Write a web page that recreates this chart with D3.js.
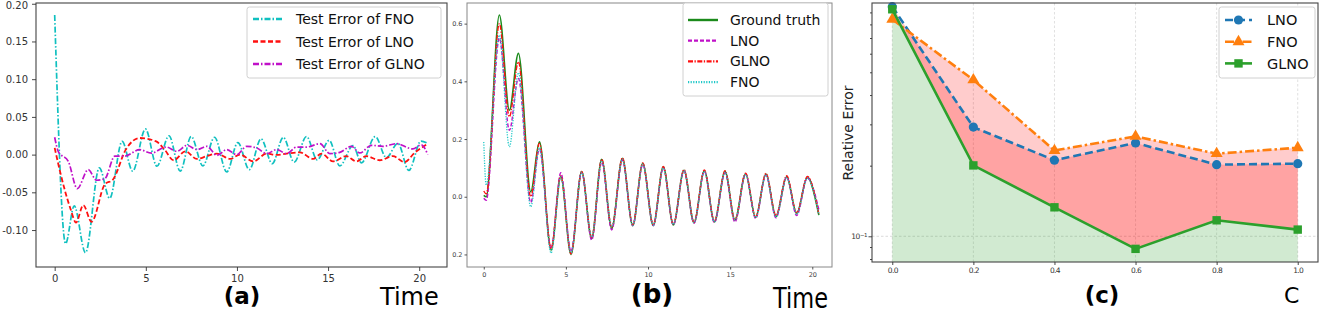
<!DOCTYPE html>
<html>
<head>
<meta charset="utf-8">
<script src="https://cdn.jsdelivr.net/npm/d3@7"></script>
<style>
  body { margin: 0; background: #fff; }
  svg { display: block; }
  text { font-family: "DejaVu Sans", sans-serif; }
</style>
</head>
<body>
<svg id="fig" width="1325" height="315"></svg>
<script>
// ---- data, panel (a): test error over time ----
const tFnoA = [0, 0.6, 1.07, 1.69, 2.45, 3.02, 3.7, 4.28, 4.98, 5.61, 6.27, 6.89, 7.49, 8.13, 8.77, 9.44, 10.05, 10.68, 11.32, 11.94, 12.54, 13.14, 13.82, 14.4, 15.06, 15.64, 16.37, 16.83, 17.59, 18.2, 18.83, 19.43, 20.1, 20.47];
const errFnoA = [0.185, -0.118, -0.068, -0.130, -0.0175, -0.058, 0.0175, -0.022, 0.034, -0.0154, 0.025, -0.022, 0.024, -0.015, 0.023, -0.023, 0.016, -0.02, 0.021, -0.012, 0.023, -0.01, 0.024, -0.007, 0.019, -0.015, 0.012, -0.011, 0.024, -0.004, 0.015, -0.021, 0.018, 0.015];

const tLnoA = [0, 0.33, 0.87, 1.17, 1.57, 2.02, 2.75, 3.2, 3.9, 4.66, 5.57, 6.03, 6.53, 7.17, 7.8, 8.35, 8.9, 9.63, 10.17, 10.9, 11.63, 12.18, 12.73, 13.45, 14.18, 14.64, 15.28, 16.0, 16.55, 17.1, 17.83, 18.56, 19.2, 19.74, 20.38];
const errLnoA = [0.009, -0.026, -0.072, -0.09, -0.067, -0.089, -0.0395, -0.033, 0.0066, 0.022, 0.0175, 0.0066, -0.0075, 0.0044, -0.0057, -0.002, 0.0013, -0.0057, 0, -0.009, 0.0013, -0.0004, 0.0013, 0.003, -0.0057, 0.0013, -0.009, -0.002, -0.009, -0.002, -0.0075, -0.002, -0.010, 0.0022, 0.013];

const tGlnoA = [0, 0.2, 0.75, 1.24, 1.84, 2.3, 2.75, 3.3, 3.84, 4.66, 5.3, 6.12, 6.7, 7.26, 7.8, 8.35, 8.9, 9.44, 9.99, 10.54, 11.08, 11.63, 12.18, 12.73, 13.27, 13.82, 14.55, 15.1, 15.64, 16.28, 16.74, 17.38, 18.01, 18.74, 19.65, 20.11, 20.47];
const errGlnoA = [0.023, 0.004, -0.009, -0.045, -0.02, -0.034, -0.032, -0.002, -0.002, 0.0066, 0.002, 0.010, 0.0044, 0.0123, 0.0066, 0.011, -0.001, 0.0066, 0, 0.011, 0.0088, 0.0013, 0.0066, 0.0013, 0.010, 0.010, 0.0145, 0.0013, 0.003, 0.011, 0.0022, 0.0123, 0.011, 0.0145, 0.0075, 0.013, 0];

const xTicksA = [0, 5, 10, 15, 20];
const yTicksA = [-0.10, -0.05, 0.00, 0.05, 0.10, 0.15, 0.20];

// ---- data, panel (b): solution over time ----
const tB = [0, 0.15, 0.95, 1.56, 2.11, 2.86, 3.39, 4.10, 4.69, 5.31, 5.96, 6.57, 7.18, 7.79, 8.44, 9.07, 9.68, 10.32, 10.93, 11.54, 12.19, 12.80, 13.43, 14.04, 14.69, 15.29, 15.94, 16.55, 17.18, 17.79, 18.44, 19.05, 19.70, 20.40];
const truthB = [0.005, 0.0, 0.63, 0.30, 0.497, 0.017, 0.19, -0.185, 0.07, -0.20, 0.087, -0.145, 0.13, -0.11, 0.133, -0.10, 0.116, -0.10, 0.104, -0.098, 0.092, -0.09, 0.09, -0.087, 0.087, -0.081, 0.079, -0.072, 0.079, -0.069, 0.069, -0.058, 0.067, -0.064];
const lnoB = [-0.005, -0.012, 0.55, 0.23, 0.41, -0.02, 0.165, -0.18, 0.083, -0.19, 0.085, -0.15, 0.12, -0.115, 0.128, -0.10, 0.112, -0.10, 0.10, -0.098, 0.09, -0.092, 0.088, -0.09, 0.083, -0.088, 0.078, -0.075, 0.075, -0.073, 0.068, -0.065, 0.065, -0.045];
const glnoB = [0.02, 0.01, 0.60, 0.277, 0.468, 0.0, 0.185, -0.18, 0.072, -0.198, 0.088, -0.14, 0.13, -0.105, 0.135, -0.098, 0.117, -0.097, 0.105, -0.095, 0.094, -0.088, 0.093, -0.085, 0.09, -0.08, 0.082, -0.07, 0.081, -0.065, 0.073, -0.055, 0.07, -0.06];
const fnoB = [0.19, 0.04, 0.56, 0.173, 0.43, -0.035, 0.17, -0.195, 0.068, -0.195, 0.085, -0.14, 0.125, -0.105, 0.13, -0.1, 0.113, -0.098, 0.1, -0.095, 0.091, -0.09, 0.088, -0.087, 0.085, -0.08, 0.077, -0.072, 0.076, -0.07, 0.067, -0.06, 0.065, -0.062];

const xTicksB = [0, 5, 10, 15, 20];
const yTicksB = [-0.2, 0.0, 0.2, 0.4, 0.6];
const yLabelsB = ["0.2", "0.0", "0.2", "0.4", "0.6"];

// ---- data, panel (c): relative error vs C ----
const cValues = [0.0, 0.2, 0.4, 0.6, 0.8, 1.0];
const lnoC = [0.952, 0.292, 0.211, 0.250, 0.202, 0.204];
const fnoC = [0.841, 0.464, 0.232, 0.2665, 0.225, 0.2385];
const glnoC = [0.928, 0.2005, 0.1329, 0.0884, 0.117, 0.1068];
const xLabelsC = ["0.0", "0.2", "0.4", "0.6", "0.8", "1.0"];
const yMinorC = [0.08, 0.09, 0.2, 0.3, 0.4, 0.5, 0.6, 0.7, 0.8, 0.9];

const svg = d3.select("#fig");
const fmt2 = d3.formatLocale({ decimal: ".", thousands: ",", grouping: [3], currency: ["", ""], minus: "-" }).format(".2f");

function styleAxis(g, color, size) {
  g.select(".domain").remove();
  g.selectAll(".tick line").attr("stroke", color).attr("stroke-width", 0.9);
  g.selectAll(".tick text").attr("fill", color).attr("font-size", size)
    .attr("font-family", "DejaVu Sans, sans-serif");
}

function legend(g, x, y, w, h, items, opt) {
  g.append("rect").attr("x", x).attr("y", y).attr("width", w).attr("height", h)
    .attr("rx", 2.5).attr("fill", "#fff").attr("stroke", "#d0d0d0").attr("stroke-width", 1);
  items.forEach((it, i) => {
    const cy = y + opt.first + i * opt.step;
    g.append("line").attr("x1", x + opt.lx0).attr("x2", x + opt.lx1).attr("y1", cy).attr("y2", cy)
      .attr("stroke", it.color).attr("stroke-width", it.width).attr("stroke-dasharray", it.dash || null);
    if (it.marker) it.marker(g, x + (opt.lx0 + opt.lx1) / 2, cy);
    g.append("text").attr("x", x + opt.tx).attr("y", cy).attr("dy", "0.36em")
      .attr("font-size", opt.size).attr("fill", "#111").text(it.label);
  });
}

// ===================== (a) =====================
{
  const g = svg.append("g");
  const x = d3.scaleLinear().domain([-1.025, 21.525]).range([36, 447]);
  const y = d3.scaleLinear().domain([-0.149, 0.201]).range([267, 3]);

  const line = d3.line().x(d => x(d[0])).y(d => y(d[1])).curve(d3.curveMonotoneX);
  const series = [
    { t: tFnoA, v: errFnoA, color: "#10c0c0", dash: "6,2,1.5,2", width: 1.7, label: "Test Error of FNO" },
    { t: tLnoA, v: errLnoA, color: "#ff1010", dash: "5,2.5", width: 1.8, label: "Test Error of LNO" },
    { t: tGlnoA, v: errGlnoA, color: "#c010c8", dash: "6,2,1.5,2", width: 1.7, label: "Test Error of GLNO" }
  ];
  series.forEach(s => {
    g.append("path").datum(d3.zip(s.t, s.v)).attr("d", line)
      .attr("fill", "none").attr("stroke", s.color).attr("stroke-width", s.width)
      .attr("stroke-dasharray", s.dash);
  });

  g.append("rect").attr("x", 36).attr("y", 3).attr("width", 411).attr("height", 264)
    .attr("fill", "none").attr("stroke", "#444").attr("stroke-width", 1.1);

  const ax = g.append("g").attr("transform", "translate(0,267)")
    .call(d3.axisBottom(x).tickValues(xTicksA).tickSize(4).tickPadding(4));
  styleAxis(ax, "#333", 10);
  const ay = g.append("g").attr("transform", "translate(36,0)")
    .call(d3.axisLeft(y).tickValues(yTicksA).tickFormat(fmt2).tickSize(4).tickPadding(4));
  styleAxis(ay, "#333", 10);
  // keep the top label inside the picture
  ay.selectAll(".tick text").filter(d => d === 0.20).attr("dy", "0.5em");

  legend(g, 247, 7, 194, 71, series.map(s => ({ ...s, width: 2.3 })),
    { first: 12, step: 22.5, lx0: 6, lx1: 36, tx: 49, size: 14 });

  g.append("text").attr("x", 242).attr("y", 304).attr("text-anchor", "middle")
    .attr("font-family", "Noto Sans, sans-serif").attr("font-weight", "bold").attr("font-size", 23).text("(a)");
  g.append("text").attr("x", 380).attr("y", 305)
    .attr("font-family", "Noto Sans, sans-serif").attr("font-size", 24).text("Time");
}

// ===================== (b) =====================
{
  const g = svg.append("g");
  const x = d3.scaleLinear().domain([-1.02, 21.2]).range([467, 832]);
  const y = d3.scaleLinear().domain([-0.2435, 0.6715]).range([267, 3]);

  const line = d3.line().x(d => x(d[0])).y(d => y(d[1])).curve(d3.curveMonotoneX);
  const series = [
    { v: truthB, color: "#1b8a1b", dash: null, width: 1.6, label: "Ground truth" },
    { v: lnoB, color: "#c010c8", dash: "4,2", width: 1.4, label: "LNO" },
    { v: glnoB, color: "#ff1010", dash: "5,1.5,1.3,1.5", width: 1.4, label: "GLNO" },
    { v: fnoB, color: "#20c8c8", dash: "1.2,1.4", width: 1.3, label: "FNO" }
  ];
  series.forEach(s => {
    g.append("path").datum(d3.zip(tB, s.v)).attr("d", line)
      .attr("fill", "none").attr("stroke", s.color).attr("stroke-width", s.width)
      .attr("stroke-dasharray", s.dash);
  });

  g.append("rect").attr("x", 467).attr("y", 3).attr("width", 365).attr("height", 264)
    .attr("fill", "none").attr("stroke", "#888").attr("stroke-width", 1);

  const ax = g.append("g").attr("transform", "translate(0,267)")
    .call(d3.axisBottom(x).tickValues(xTicksB).tickSize(2.5).tickPadding(2.5));
  styleAxis(ax, "#444", 6.5);
  const ay = g.append("g").attr("transform", "translate(467,0)")
    .call(d3.axisLeft(y).tickValues(yTicksB).tickFormat((d, i) => yLabelsB[i]).tickSize(2.5).tickPadding(2));
  styleAxis(ay, "#444", 6.5);

  legend(g, 683, 3, 145, 93, series.map(s => ({ ...s, width: s.width + 0.8 })),
    { first: 17, step: 20.7, lx0: 5, lx1: 35, tx: 47, size: 14 });

  g.append("text").attr("x", 652).attr("y", 303).attr("text-anchor", "middle")
    .attr("font-family", "Noto Sans, sans-serif").attr("font-weight", "bold").attr("font-size", 26).text("(b)");
  g.append("text").attr("x", 773).attr("y", 308).attr("textLength", 55).attr("lengthAdjust", "spacingAndGlyphs")
    .attr("font-family", "Noto Sans, sans-serif").attr("font-size", 28).text("Time");
}

// ===================== (c) =====================
{
  const g = svg.append("g");
  const x = d3.scaleLinear().domain([-0.05, 1.05]).range([872, 1318]);
  const y = d3.scaleLog().domain([0.0777, 0.987]).range([262, 3]);
  const yBottom = 262;

  // grid
  g.selectAll(".vgrid").data(cValues).enter().append("line")
    .attr("x1", d => x(d)).attr("x2", d => x(d)).attr("y1", 3).attr("y2", yBottom)
    .attr("stroke", "#d8d8d8").attr("stroke-width", 0.8).attr("stroke-dasharray", "2.5,2");
  g.append("line").attr("x1", 872).attr("x2", 1318).attr("y1", y(0.1)).attr("y2", y(0.1))
    .attr("stroke", "#d0d0d0").attr("stroke-width", 0.8).attr("stroke-dasharray", "2.5,2");

  const band = (lo, hi) => d3.area().x((d, i) => x(cValues[i])).y0((d, i) => lo(i)).y1((d, i) => hi(i));
  g.append("path").datum(cValues)
    .attr("d", band(i => y(glnoC[i]), i => y(fnoC[i])))
    .attr("fill", "#ff0000").attr("fill-opacity", 0.2);
  g.append("path").datum(cValues)
    .attr("d", band(i => y(glnoC[i]), i => y(lnoC[i])))
    .attr("fill", "#ff0000").attr("fill-opacity", 0.2);
  g.append("path").datum(cValues)
    .attr("d", band(() => yBottom, i => y(glnoC[i])))
    .attr("fill", "#2ca02c").attr("fill-opacity", 0.22);

  const circle = (gg, cx, cy) => gg.append("circle").attr("cx", cx).attr("cy", cy).attr("r", 4.6).attr("fill", "#1f77b4");
  const tri = (gg, cx, cy) => gg.append("path").attr("transform", `translate(${cx},${cy})`)
    .attr("d", d3.symbol(d3.symbolTriangle, 62)()).attr("fill", "#ff7f0e");
  const square = (gg, cx, cy) => gg.append("rect").attr("x", cx - 4.2).attr("y", cy - 4.2)
    .attr("width", 8.4).attr("height", 8.4).attr("fill", "#2ca02c");

  const series = [
    { v: lnoC, color: "#1f77b4", dash: "8,4", width: 2.6, marker: circle, label: "LNO" },
    { v: fnoC, color: "#ff7f0e", dash: "9,3,2.5,3", width: 2.6, marker: tri, label: "FNO" },
    { v: glnoC, color: "#2ca02c", dash: null, width: 2.6, marker: square, label: "GLNO" }
  ];
  const line = d3.line().x((d, i) => x(cValues[i])).y(d => y(d));
  series.forEach(s => {
    g.append("path").datum(s.v).attr("d", line).attr("fill", "none")
      .attr("stroke", s.color).attr("stroke-width", s.width).attr("stroke-dasharray", s.dash);
    s.v.forEach((v, i) => s.marker(g, x(cValues[i]), y(v)));
  });

  g.append("rect").attr("x", 872).attr("y", 3).attr("width", 446).attr("height", 259)
    .attr("fill", "none").attr("stroke", "#444").attr("stroke-width", 1.1);

  const ax = g.append("g").attr("transform", `translate(0,${yBottom})`)
    .call(d3.axisBottom(x).tickValues(cValues).tickFormat((d, i) => xLabelsC[i]).tickSize(3).tickPadding(3));
  styleAxis(ax, "#333", 7.5);
  ax.selectAll(".tick text").attr("letter-spacing", -0.6);

  const ay = g.append("g").attr("transform", "translate(872,0)")
    .call(d3.axisLeft(y).tickValues([0.1]).tickFormat("").tickSize(3.5));
  styleAxis(ay, "#333", 7);
  const ayMinor = g.append("g").attr("transform", "translate(872,0)")
    .call(d3.axisLeft(y).tickValues(yMinorC).tickFormat("").tickSize(2));
  styleAxis(ayMinor, "#333", 7);

  const lab = g.append("text").attr("x", 867).attr("y", y(0.1)).attr("dy", "0.4em")
    .attr("text-anchor", "end").attr("font-size", 7.5).attr("fill", "#333").attr("letter-spacing", -0.5);
  lab.append("tspan").text("10");
  lab.append("tspan").attr("dy", "-0.45em").attr("font-size", 5.5).text("−1");

  g.append("text").attr("transform", "translate(853,133) rotate(-90)").attr("text-anchor", "middle")
    .attr("font-size", 14).attr("fill", "#222").text("Relative Error");

  legend(g, 1219, 7, 96, 71, series, { first: 13, step: 21.7, lx0: 6, lx1: 33, tx: 48, size: 14.5 });

  g.append("text").attr("x", 1102).attr("y", 303).attr("text-anchor", "middle")
    .attr("font-family", "Noto Sans, sans-serif").attr("font-weight", "bold").attr("font-size", 23).text("(c)");
  g.append("text").attr("x", 1284).attr("y", 303)
    .attr("font-family", "Noto Sans, sans-serif").attr("font-size", 22).text("C");
}
</script>
</body>
</html>
